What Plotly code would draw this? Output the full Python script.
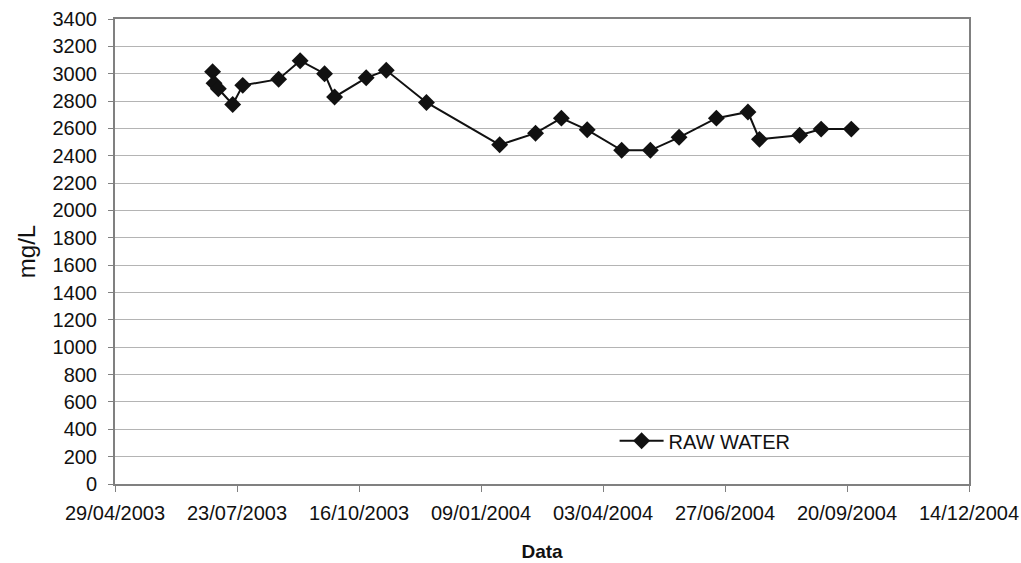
import plotly.graph_objects as go

dates = ["2003-07-06", "2003-07-07", "2003-07-10", "2003-07-20", "2003-07-27",
         "2003-08-21", "2003-09-05", "2003-09-22", "2003-09-29", "2003-10-21",
         "2003-11-04", "2003-12-02", "2004-01-22", "2004-02-16", "2004-03-05",
         "2004-03-23", "2004-04-16", "2004-05-06", "2004-05-26", "2004-06-21",
         "2004-07-13", "2004-07-21", "2004-08-18", "2004-09-02", "2004-09-23"]
raw_water = [3015, 2930, 2890, 2775, 2915,
             2960, 3095, 3000, 2830, 2970,
             3025, 2790, 2480, 2565, 2675,
             2590, 2440, 2440, 2535, 2675,
             2720, 2520, 2550, 2595, 2595]

tick_dates = ["2003-04-29", "2003-07-23", "2003-10-16", "2004-01-09",
              "2004-04-03", "2004-06-27", "2004-09-20", "2004-12-14"]
tick_labels = ["29/04/2003", "23/07/2003", "16/10/2003", "09/01/2004",
               "03/04/2004", "27/06/2004", "20/09/2004", "14/12/2004"]
y_ticks = list(range(0, 3401, 200))

font_family = "Arial, Liberation Sans, sans-serif"

fig = go.Figure()
fig.add_trace(go.Scatter(
    x=dates, y=raw_water, name="RAW WATER", mode="lines+markers",
    line=dict(color="#111111", width=2),
    marker=dict(symbol="diamond", size=13, color="#111111"),
))

fig.update_layout(
    width=1021, height=563,
    margin=dict(l=115, r=52, t=19, b=79, autoexpand=False),
    paper_bgcolor="white", plot_bgcolor="white",
    font=dict(family=font_family, size=20, color="#111111"),
    showlegend=True,
    legend=dict(x=0.585, y=0.093, xanchor="left", yanchor="middle",
                itemwidth=44,
                bgcolor="rgba(0,0,0,0)", font=dict(size=20)),
    xaxis=dict(
        type="date", range=["2003-04-29", "2004-12-14"],
        tickmode="array", tickvals=tick_dates, ticktext=tick_labels,
        showgrid=False, showline=True, linecolor="#808080", linewidth=2,
        mirror=True, ticks="outside", ticklen=6, tickcolor="#808080",
        tickfont=dict(size=20), zeroline=False, ticklabelstandoff=4,
        automargin=False,
        title=dict(text="<b>Data</b>", font=dict(size=19), standoff=22),
    ),
    yaxis=dict(
        range=[0, 3400], tickmode="array", tickvals=y_ticks,
        showgrid=True, gridcolor="#b4b4b4", gridwidth=1,
        showline=True, linecolor="#808080", linewidth=2, mirror=True,
        ticks="outside", ticklen=5, tickcolor="#808080",
        tickfont=dict(size=20), zeroline=False, ticklabelstandoff=7,
        automargin=False,
        title=dict(text="mg/L", font=dict(size=24), standoff=10),
    ),
)

fig.write_html(
    "out.html",
    config={"displayModeBar": False},
    post_script="document.body.style.margin='0';document.body.style.overflow='hidden';",
)
